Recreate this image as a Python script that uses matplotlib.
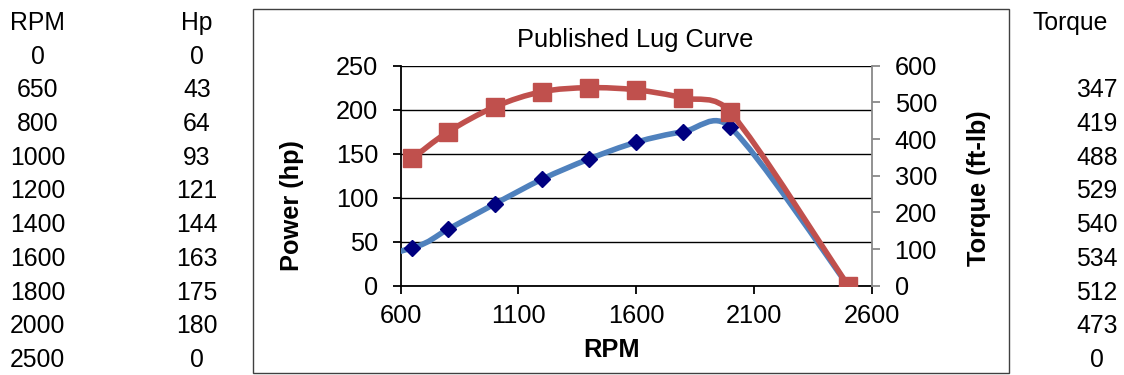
import matplotlib
matplotlib.use('agg')
import numpy as np
import matplotlib.pyplot as plt
from matplotlib.path import Path
from matplotlib.patches import PathPatch, Rectangle

# sheet data
rpm = [0, 650, 800, 1000, 1200, 1400, 1600, 1800, 2000, 2500]
hp = [0, 43, 64, 93, 121, 144, 163, 175, 180, 0]
torque = [None, 347, 419, 488, 529, 540, 534, 512, 473, 0]

x_ticks = [600, 1100, 1600, 2100, 2600]
hp_ticks = [0, 50, 100, 150, 200, 250]
tq_ticks = [0, 100, 200, 300, 400, 500, 600]

plt.rcParams['font.family'] = ['Liberation Sans', 'DejaVu Sans']
FS = 17.8   # sheet cells
CFS = 18.3  # chart text

W, H = 1124, 375
fig = plt.figure(figsize=(W / 100, H / 100), dpi=100)

def fx(px):
    return px / W

def fy(py):
    return 1 - py / H

# spreadsheet columns around the chart
fig.text(fx(37.5), fy(30), 'RPM', ha='center', va='baseline', fontsize=FS)
fig.text(fx(197), fy(30), 'Hp', ha='center', va='baseline', fontsize=FS)
fig.text(fx(1070), fy(30), 'Torque', ha='center', va='baseline', fontsize=FS)
for i in range(len(rpm)):
    yb = fy(30 + 33.7 * (i + 1))
    fig.text(fx(37.5), yb, str(rpm[i]), ha='center', va='baseline', fontsize=FS)
    fig.text(fx(197), yb, str(hp[i]), ha='center', va='baseline', fontsize=FS)
    if torque[i] is not None:
        fig.text(fx(1097), yb, str(torque[i]), ha='center', va='baseline', fontsize=FS)

# chart frame
fig.add_artist(Rectangle((fx(253.3), fy(372.7)), fx(1009.3 - 253.3), (372.7 - 9.3) / H,
                         transform=fig.transFigure, fill=False, ec='#404040', lw=1))

ax = fig.add_axes([fx(400.7), fy(285.7), fx(471), 220 / H])
ax2 = ax.twinx()

ax.set_xlim(600, 2600)
ax.set_ylim(0, 250)
ax2.set_ylim(0, 600)
ax.set_xticks(x_ticks)
ax.set_yticks(hp_ticks)
ax2.set_yticks(tq_ticks)

def smooth_path(a, xs, ys):
    # excel style smoothed line, control points capped at half a segment
    pts = a.transData.transform(np.column_stack([xs, ys]))
    n = len(pts)
    verts = [pts[0]]
    codes = [Path.MOVETO]
    for i in range(n - 1):
        p0 = pts[max(i - 1, 0)]
        p1 = pts[i]
        p2 = pts[i + 1]
        p3 = pts[min(i + 2, n - 1)]
        half = np.hypot(*(p2 - p1)) / 2
        t1 = p2 - p0
        t2 = p3 - p1
        d1 = np.hypot(*t1)
        d2 = np.hypot(*t2)
        f1 = min(1 / 6, half / d1) if d1 > 0 else 0
        f2 = min(1 / 6, half / d2) if d2 > 0 else 0
        verts += [p1 + t1 * f1, p2 - t2 * f2, p2]
        codes += [Path.CURVE4] * 3
    verts = a.transData.inverted().transform(np.array(verts))
    return Path(verts, codes)

hp_x = rpm
hp_y = hp
tq_x = [r for r, t in zip(rpm, torque) if t is not None]
tq_y = [t for t in torque if t is not None]

ax.add_patch(PathPatch(smooth_path(ax, hp_x, hp_y), fill=False, ec='#4F81BD',
                       lw=4, capstyle='round', joinstyle='round', zorder=3))
ax.plot(hp_x, hp_y, ls='none', marker='D', ms=8, color='#000080', zorder=4)

ax2.add_patch(PathPatch(smooth_path(ax2, tq_x, tq_y), fill=False, ec='#C0504D',
                        lw=4, capstyle='round', joinstyle='round', zorder=3))
ax2.plot(tq_x, tq_y, ls='none', marker='s', ms=13.5, color='#C0504D', zorder=4)

ax.yaxis.grid(True, color='black', lw=1)
ax.set_axisbelow(True)
for s in ['top', 'right']:
    ax.spines[s].set_visible(False)
for s in ['top', 'left', 'bottom']:
    ax2.spines[s].set_visible(False)
ax.spines['left'].set_linewidth(1.3)
ax.spines['bottom'].set_linewidth(1.3)
ax2.spines['right'].set_color('#898989')
ax2.spines['right'].set_linewidth(1.3)

ax.tick_params(axis='x', direction='out', length=5.5, width=1.3, pad=8, labelsize=CFS)
ax.tick_params(axis='y', direction='out', length=5.5, width=1.3, pad=10.5, labelsize=CFS)
ax2.tick_params(axis='y', direction='out', length=5.5, width=1.3, color='#898989',
                pad=11, labelsize=CFS)

ax.set_xlabel('RPM', fontsize=CFS, fontweight='bold', va='center')
ax.xaxis.set_label_coords((612 - 400.7) / 471, (285.7 - 350) / 220)
ax.set_ylabel('Power (hp)', fontsize=CFS, fontweight='bold', va='center')
ax.yaxis.set_label_coords((291.7 - 400.7) / 471, (285.7 - 206) / 220)
ax2.set_ylabel('Torque (ft-lb)', fontsize=CFS, fontweight='bold', va='center')
ax2.yaxis.set_label_coords((979 - 400.7) / 471, (285.7 - 188) / 220)

fig.text(fx(635), fy(46.7), 'Published Lug Curve', ha='center', va='baseline', fontsize=CFS)

fig.savefig('out.png', dpi=100)
